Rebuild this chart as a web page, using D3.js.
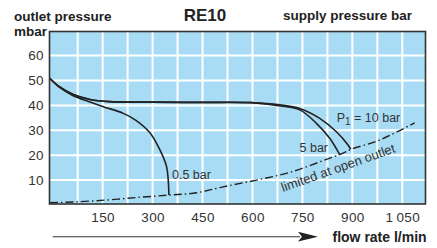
<!DOCTYPE html>
<html>
<head>
<meta charset="utf-8">
<script src="https://cdn.jsdelivr.net/npm/d3@7"></script>
<style>
  body { margin: 0; background: #fff; }
  svg { display: block; font-family: "Liberation Sans", Arial, sans-serif; }
</style>
</head>
<body>
<svg id="chart" width="437" height="248"></svg>
<script>
// values
var xTicks = [150, 300, 450, 600, 750, 900, 1050];
var yTicks = [10, 20, 30, 40, 50, 60];
var xGrid = [75, 150, 225, 300, 375, 450, 525, 600, 675, 750, 825, 900, 975, 1050];

var flow05 = [-10, 20, 60, 112, 152, 212, 250, 292, 322, 342, 347, 349];
var pres05 = [51, 47.3, 44, 41.4, 39.5, 36.8, 34, 29, 22.1, 15.4, 10, 4];

var flow5 = [-10, 20, 60, 112, 170, 300, 450, 597, 672, 742, 792, 832, 857, 862];
var pres5 = [51, 47.5, 44.5, 42.4, 41.5, 41.3, 41.2, 41.1, 40, 38.2, 32.8, 26.8, 21.4, 20.1];

var flow10 = [-10, 20, 60, 112, 170, 300, 450, 597, 682, 742, 802, 852, 887, 895];
var pres10 = [51, 47.5, 44.5, 42.4, 41.5, 41.3, 41.2, 41.1, 40.2, 38.8, 34.8, 29.4, 24.1, 22.4];

var flowOpen = [-8, 62, 162, 262, 352, 432, 512, 612, 712, 812, 872, 897, 982, 1087];
var presOpen = [0.9, 1.2, 2, 3.1, 4, 4.9, 7.3, 10, 13.1, 17.8, 20.8, 22.4, 26.1, 33];

var box = {left: 49.5, right: 425.5, top: 31.5, bottom: 204};
var bg = "#a8dcf5", ink = "#222";

var svg = d3.select("#chart");

var x = d3.scaleLinear().domain([0, 1050]).range([52.7, 402.3]),
    y = d3.scaleLinear().domain([0, 60]).range([205, 55.6]);

function pts(fx, fy){
  return fx.map(function(d, i){ return [d, fy[i]]; });
}

//background of the plot
svg.append("rect")
  .attr("x", box.left).attr("y", box.top)
  .attr("width", box.right - box.left)
  .attr("height", box.bottom - box.top)
  .style("fill", bg);

//grid
svg.append("g").selectAll("line")
  .data(xGrid).enter().append("line")
    .attr("x1", function(d){ return x(d); })
    .attr("x2", function(d){ return x(d); })
    .attr("y1", box.top).attr("y2", box.bottom)
    .style("stroke", "#fff").style("stroke-width", 2);
svg.append("g").selectAll("line")
  .data(yTicks).enter().append("line")
    .attr("x1", box.left).attr("x2", box.right)
    .attr("y1", function(d){ return y(d); })
    .attr("y2", function(d){ return y(d); })
    .style("stroke", "#fff").style("stroke-width", 2);

//curves
var line = d3.line()
  .x(function(d){ return x(d[0]); })
  .y(function(d){ return y(d[1]); })
  .curve(d3.curveCatmullRom.alpha(0.5));

[pts(flow05, pres05), pts(flow5, pres5), pts(flow10, pres10)].forEach(function(c){
  svg.append("path")
    .datum(c)
    .attr("d", line)
    .style("fill", "none")
    .style("stroke", ink)
    .style("stroke-width", 1.6);
});

svg.append("path")
  .datum(pts(flowOpen, presOpen))
  .attr("d", line)
  .style("fill", "none")
  .style("stroke", ink)
  .style("stroke-width", 1.4)
  .style("stroke-dasharray", "8,3,1.5,3");

//frame
svg.append("rect")
  .attr("x", box.left).attr("y", box.top)
  .attr("width", box.right - box.left)
  .attr("height", box.bottom - box.top)
  .style("fill", "none")
  .style("stroke", "#333")
  .style("stroke-width", 1.6);

//axes
var xAxis = svg.append("g")
  .attr("transform", "translate(0," + box.bottom + ")")
  .call(d3.axisBottom(x).tickValues(xTicks).tickSize(0).tickPadding(8.5)
    .tickFormat(function(d){ return d >= 1000 ? "1\u2009" + String(d).slice(1) : d; }));
var yAxis = svg.append("g")
  .attr("transform", "translate(" + box.left + ",0)")
  .call(d3.axisLeft(y).tickValues(yTicks).tickSize(0).tickPadding(5.5));
[xAxis, yAxis].forEach(function(a){
  a.select(".domain").remove();
  a.selectAll("text")
    .style("font-family", "Liberation Sans, Arial, sans-serif")
    .style("font-size", "13.5px")
    .style("letter-spacing", "0.4px")
    .style("fill", "#333");
});

//labels on the curves
function label(txt, px, py){
  return svg.append("text")
    .attr("x", px).attr("y", py)
    .style("font-size", "12.5px")
    .style("fill", "#333")
    .text(txt);
}
label("0.5 bar", 172, 179);
label("5 bar", 299.5, 152.3);
var p1 = label("P", 336.7, 122.3);
p1.append("tspan").attr("dy", 3).style("font-size", "10px").text("1");
p1.append("tspan").attr("dy", -3).text(" = 10 bar");

svg.append("text")
  .attr("transform", "translate(283,192) rotate(-19.5)")
  .style("font-size", "13px")
  .style("fill", "#333")
  .text("limited at open outlet");

//titles
function bold(txt, px, py, size, anchor){
  return svg.append("text")
    .attr("x", px).attr("y", py)
    .style("font-size", size)
    .style("font-weight", "bold")
    .style("text-anchor", anchor || "start")
    .style("fill", ink)
    .text(txt);
}
bold("outlet pressure", 14, 20.7, "13.5px");
bold("mbar", 14, 35.5, "13.5px");
bold("RE10", 205, 20.5, "17px", "middle");
bold("supply pressure bar", 283, 20, "13.5px");
bold("flow rate l/min", 332.5, 241.7, "14px");

//arrow under the axis
svg.append("line")
  .attr("x1", 52.7).attr("x2", 300)
  .attr("y1", 236.7).attr("y2", 236.7)
  .style("stroke", "#333").style("stroke-width", 1.1);
svg.append("path")
  .attr("d", "M298,231.8 L318,236.7 L298,241.6 L302,236.7 Z")
  .style("fill", "#222");
</script>
</body>
</html>
